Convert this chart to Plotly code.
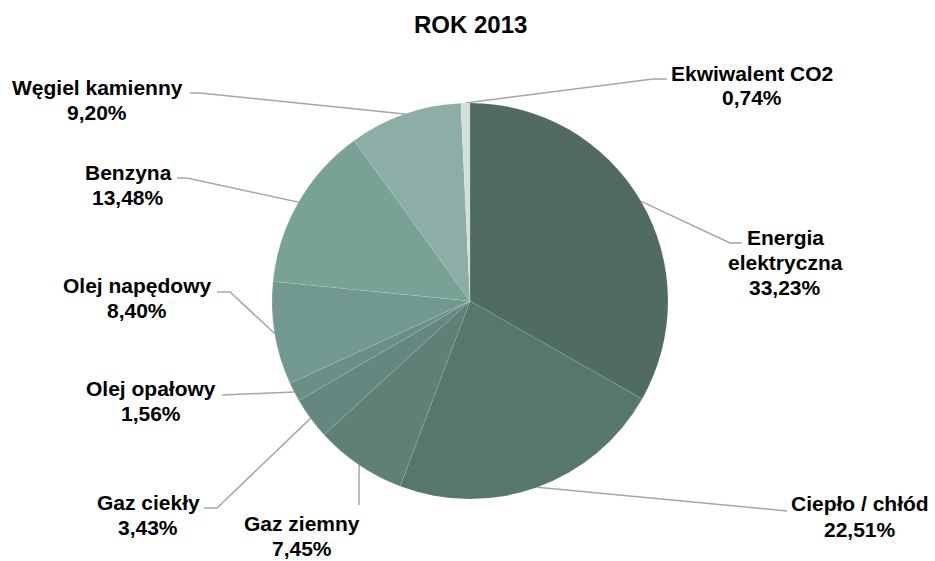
import math
import plotly.graph_objects as go

# ---- data ----
title = "ROK 2013"
labels = ["Energia<br>elektryczna", "Ciepło / chłód", "Gaz ziemny", "Gaz ciekły",
          "Olej opałowy", "Olej napędowy", "Benzyna", "Węgiel kamienny", "Ekwiwalent CO2"]
values = [33.23, 22.51, 7.45, 3.43, 1.56, 8.40, 13.48, 9.20, 0.74]
colors = ["#4F6B62", "#56776E", "#5E8077", "#648880", "#6A8F86",
          "#72998F", "#79A297", "#8CAEA6", "#D4DFDC"]

# ---- layout constants (pixels) ----
W, H = 935, 561
CX, CY, R = 470, 301, 198
FONT = "Liberation Sans, Arial, sans-serif"
# leader knee/end points and label centres (layout only)
leaders = [
    dict(knee=(730, 243), end=(742, 243), lx=785, ly=[237, 262, 287]),
    dict(knee=(780, 511), end=(787, 511), lx=860, ly=[503, 529]),
    dict(knee=(359, 505), end=(359, 505), lx=302, ly=[523, 548]),
    dict(knee=(217, 508), end=(204, 508), lx=148, ly=[502, 527]),
    dict(knee=(229, 395), end=(222, 395), lx=151, ly=[388, 413]),
    dict(knee=(230, 292), end=(217, 292), lx=137, ly=[285, 310]),
    dict(knee=(187, 178), end=(177, 178), lx=128, ly=[172, 197]),
    dict(knee=(200, 93), end=(190, 93), lx=97, ly=[87, 112]),
    dict(knee=(653, 79), end=(667, 79), lx=752, ly=[73, 97]),
]

fig = go.Figure()
fig.add_trace(go.Pie(
    values=values, labels=[l.replace("<br>", " ") for l in labels],
    sort=False, direction="clockwise", rotation=0,
    marker=dict(colors=colors, line=dict(color="rgba(255,255,255,0.18)", width=0.5)),
    textinfo="none", hoverinfo="label+percent", showlegend=False,
    domain=dict(x=[(CX - R) / W, (CX + R) / W], y=[(H - CY - R) / H, (H - CY + R) / H]),
))

total = sum(values)
cum = 0.0
annotations = []
for v, lab, ld in zip(values, labels, leaders):
    theta = 2 * math.pi * (cum + v / 2) / total
    cum += v
    sx = CX + R * math.sin(theta)
    sy = CY - R * math.cos(theta)
    fig.add_trace(go.Scatter(
        x=[sx, ld["knee"][0], ld["end"][0]], y=[sy, ld["knee"][1], ld["end"][1]],
        mode="lines", line=dict(color="#A6A6A6", width=1.5),
        hoverinfo="skip", showlegend=False))
    pct = f"{v:.2f}".replace(".", ",") + "%"
    lines = lab.split("<br>") + [pct]
    for txt, yy in zip(lines, ld["ly"]):
        annotations.append(dict(
            x=ld["lx"], y=yy, xref="x", yref="y", text=f"<b>{txt}</b>",
            showarrow=False, xanchor="center", yanchor="middle",
            font=dict(family=FONT, size=21, color="#000000")))

annotations.append(dict(
    x=470, y=24, xref="x", yref="y", text=f"<b>{title}</b>", showarrow=False,
    xanchor="center", yanchor="middle", font=dict(family=FONT, size=24, color="#000000")))

fig.update_layout(
    width=W, height=H, margin=dict(l=0, r=0, t=0, b=0),
    paper_bgcolor="white", plot_bgcolor="rgba(0,0,0,0)",
    xaxis=dict(range=[0, W], visible=False, fixedrange=True),
    yaxis=dict(range=[H, 0], visible=False, fixedrange=True),
    annotations=annotations,
)

fig.write_html("out.html", config={"displayModeBar": False},
               post_script="document.body.style.margin='0';document.body.style.overflow='hidden';")
